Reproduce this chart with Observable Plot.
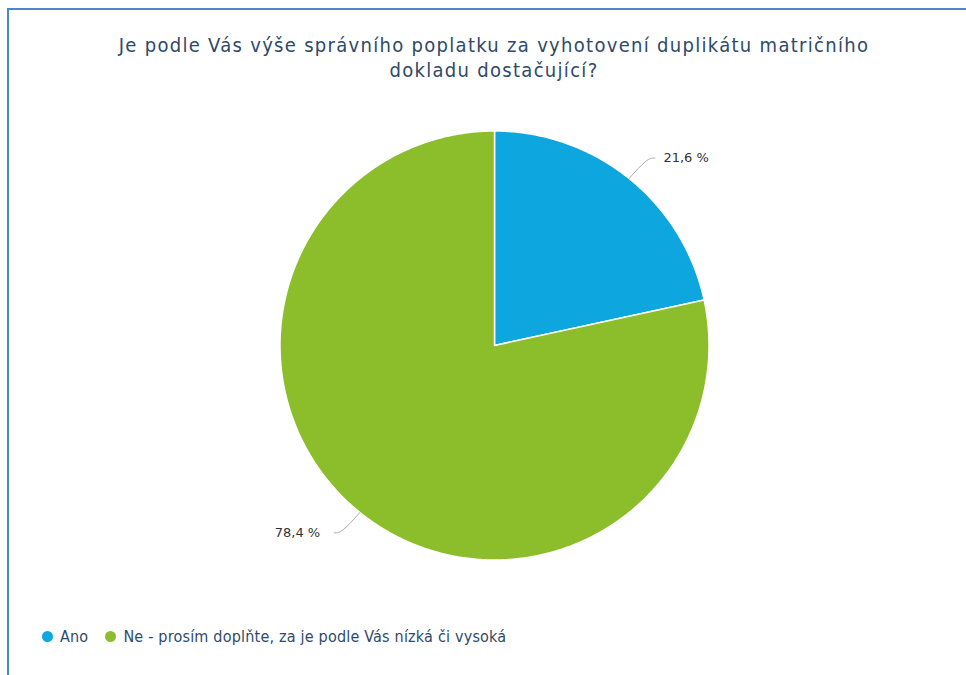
<!DOCTYPE html>
<html>
<head>
<meta charset="utf-8">
<script src="https://cdn.jsdelivr.net/npm/d3@7"></script>
<script src="https://cdn.jsdelivr.net/npm/@observablehq/plot@0.6"></script>
<style>
  html, body { margin: 0; padding: 0; background: #fff; }
  body { width: 966px; height: 675px; position: relative; overflow: hidden; }
  #frame { position: absolute; left: 7px; top: 8px; width: 2000px; height: 2000px;
           border-left: 2px solid #4a86c8; border-top: 2px solid #4a86c8; box-sizing: border-box; }
  #title { position: absolute; left: 0; width: 988px; top: 33px; text-align: center;
           font-family: "DejaVu Sans Condensed", "DejaVu Sans", sans-serif; font-size: 20px; letter-spacing: 1.3px;
           line-height: 25px; color: #2f4a68; }
  #chart { position: absolute; left: 0; top: 0; }
  #legend { position: absolute; left: 42px; top: 626px; font-family: "DejaVu Sans Condensed", "DejaVu Sans", sans-serif;
            font-size: 16px; letter-spacing: 0.2px; color: #2f4a68; display: flex; gap: 17px; }
  .item { display: flex; align-items: center; height: 20px; }
  .dot { width: 11px; height: 11px; border-radius: 50%; display: inline-block; margin-right: 7px; }
</style>
</head>
<body>
<div id="frame"></div>
<div id="chart"></div>
<div id="title">Je podle Vás výše správního poplatku za vyhotovení duplikátu matričního<br>dokladu dostačující?</div>
<div id="legend"></div>
<script>
const categories = ["Ano", "Ne - prosím doplňte, za je podle Vás nízká či vysoká"];
const values = [21.6, 78.4];
const colors = ["#0da6df", "#8cbe2b"];

const W = 966, H = 675, cx = 494, cy = 345, r = 214.5;

const pie = d3.pie().sort(null).value(d => d.value);
const arcs = pie(categories.map((c, i) => ({category: c, value: values[i], color: colors[i]})));

// slice polygons in unit-radius coordinates (angle clockwise from top)
const slicePts = [];
arcs.forEach((a, i) => {
  const n = Math.max(2, Math.ceil((a.endAngle - a.startAngle) / 0.01));
  slicePts.push({k: i, x: 0, y: 0, color: a.data.color});
  for (let j = 0; j <= n; j++) {
    const t = a.startAngle + (a.endAngle - a.startAngle) * j / n;
    slicePts.push({k: i, x: Math.sin(t), y: Math.cos(t), color: a.data.color});
  }
  slicePts.push({k: i, x: 0, y: 0, color: a.data.color});
});

// label leaders
const leaders = [];
const labels = [];
arcs.forEach((a, i) => {
  const m = (a.startAngle + a.endAngle) / 2;
  const sx = Math.sin(m), sy = Math.cos(m);
  const side = sx >= 0 ? 1 : -1;
  const ex = sx * 1.135, ey = sy * 1.135 - 0.01 * Math.sign(sy);
  leaders.push({k: i, x: sx * 1.0, y: sy * 1.0});
  leaders.push({k: i, x: ex, y: ey});
  leaders.push({k: i, x: ex + side * 0.035, y: ey});
  labels.push({x: ex + side * (side > 0 ? 0.075 : 0.1), y: ey, side, text: a.data.value.toFixed(1).replace(".", ",") + " %"});
});

const chart = Plot.plot({
  width: W, height: H,
  margin: 0,
  x: {domain: [-cx / r, (W - cx) / r], axis: null},
  y: {domain: [-(H - cy) / r, cy / r], axis: null},
  marks: [
    Plot.line(slicePts, {x: "x", y: "y", z: "k", fill: "color", stroke: "#fff", strokeWidth: 1.5, curve: "linear-closed"}),
    Plot.line(leaders, {x: "x", y: "y", z: "k", stroke: "#aaa", strokeWidth: 1, curve: "basis"}),
    Plot.text(labels.filter(d => d.side > 0), {x: "x", y: "y", text: "text", textAnchor: "start", fontSize: 13, fill: "#333", fontFamily: "DejaVu Sans"}),
    Plot.text(labels.filter(d => d.side < 0), {x: "x", y: "y", text: "text", textAnchor: "end", fontSize: 13, fill: "#333", fontFamily: "DejaVu Sans"})
  ]
});
document.getElementById("chart").append(chart);

const legend = document.getElementById("legend");
categories.forEach((c, i) => {
  const it = document.createElement("div");
  it.className = "item";
  const dot = document.createElement("span");
  dot.className = "dot";
  dot.style.background = colors[i];
  it.append(dot, document.createTextNode(c));
  legend.append(it);
});
</script>
</body>
</html>
